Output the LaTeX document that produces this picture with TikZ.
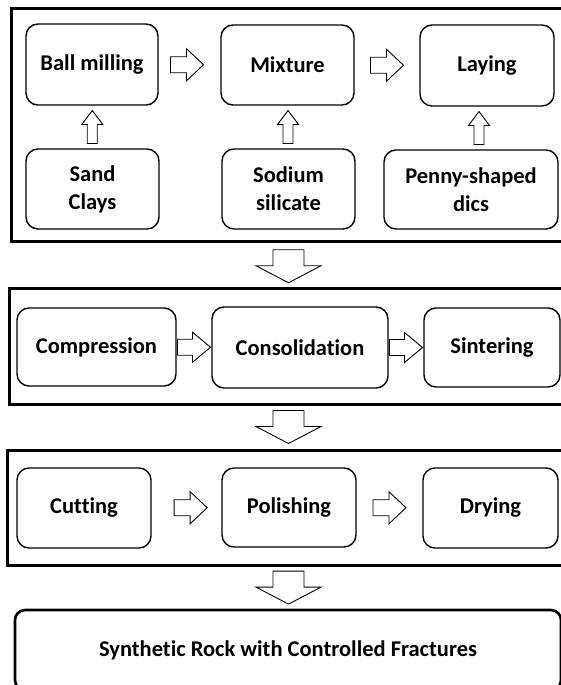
\documentclass[tikz,border=0pt]{standalone}
\usepackage{fontspec}
\setmainfont{Carlito}[Ligatures=NoCommon]
\usetikzlibrary{calc}
\begin{document}
\begin{tikzpicture}[x=1pt,y=-1pt,
  box/.style={draw, line width=1.4pt, rounded corners=12pt, align=center,
    font=\fontsize{22.5}{28}\selectfont\bfseries, inner sep=0pt},
  frame/.style={draw, line width=3pt, inner sep=0pt},
  arr/.style={draw, line width=0.9pt, fill=white, line join=miter},
  rA/.pic={\path[arr] (-16.5,-8) -- (-0.5,-8) -- (-0.5,-16) -- (16.5,0) -- (-0.5,16) -- (-0.5,8) -- (-16.5,8) -- cycle;},
  rB/.pic={\path[arr] (-16.5,-8) -- (-1.5,-8) -- (-1.5,-15) -- (16.5,0) -- (-1.5,15) -- (-1.5,8) -- (-16.5,8) -- cycle;},
  uA/.pic={\path[arr] (0,-16.5) -- (10.5,-2.5) -- (5,-2.5) -- (5,16.5) -- (-5,16.5) -- (-5,-2.5) -- (-10.5,-2.5) -- cycle;},
  dA/.pic={\path[arr] (-15.5,-16.5) -- (15.5,-16.5) -- (15.5,-0.5) -- (32.5,-0.5) -- (0,16.5) -- (-32.5,-0.5) -- (-15.5,-0.5) -- cycle;}
]
\useasboundingbox (0,0) rectangle (561,685);
\clip (0,0) rectangle (561,685);
\fill[white] (0,0) rectangle (561,685);

% frames
\node[frame, minimum width=564pt, minimum height=232pt] (f1) at (293,125) {};
\node[frame, minimum width=566pt, minimum height=116pt] (f2) at (292,346) {};
\node[frame, minimum width=568pt, minimum height=115pt] (f3) at (291,507.5) {};

% stage 1
\node[box, minimum width=132pt, minimum height=81pt] (bm) at (92,64.5) {Ball milling};
\node[box, minimum width=133pt, minimum height=80pt] (mx) at (287.5,65) {Mixture};
\node[box, minimum width=134pt, minimum height=81pt] (ly) at (487,65.5) {Laying};
\node[box, minimum width=133pt, minimum height=80pt] (sc) at (92.5,189) {Sand\\Clays};
\node[box, minimum width=133pt, minimum height=80pt] (ss) at (288.5,189) {Sodium\\silicate};
\node[box, minimum width=174pt, minimum height=79pt] (ps) at (471,189.5) {Penny-shaped\\dics};

\pic at ($(bm.east)!0.46!(mx.west)$) {rA};
\pic at ($(mx.east)!0.5!(ly.west)$) {rA};
\pic at ($(sc.north)!0.5!(bm.south)$) {uA};
\pic at ($(ss.north)!0.5!(mx.south)$) {uA};
\pic at ($(ps.north)!0.5!(ly.south)$) {uA};

% stage 2
\node[box, minimum width=159pt, minimum height=78pt] (cp) at (96.5,347) {Compression};
\node[box, minimum width=176pt, minimum height=81pt] (cn) at (300,347.5) {Consolidation};
\node[box, minimum width=136pt, minimum height=79pt] (st) at (492,347.5) {Sintering};
\pic at ($(cp.east)!0.5!(cn.west)$) {rB};
\pic at ($(cn.east)!0.5!(st.west)$) {rB};

% stage 3
\node[box, minimum width=134pt, minimum height=80pt] (ct) at (84,508) {Cutting};
\node[box, minimum width=134pt, minimum height=79pt] (po) at (289,507.5) {Polishing};
\node[box, minimum width=135pt, minimum height=80pt] (dr) at (490.5,508) {Drying};
\pic at ($(ct.east)!0.56!(po.west)$) {rA};
\pic at ($(po.east)!0.5!(dr.west)$) {rA};

% final
\node[box, line width=2.6pt, rounded corners=10pt, minimum width=546pt, minimum height=80pt] (fin) at (288,650) {Synthetic Rock with Controlled Fractures};

% down arrows
\pic at ($(ss.center |- f1.south)!0.54!(ss.center |- f2.north)$) {dA};
\pic at ($(ss.center |- f2.south)!0.5!(ss.center |- f3.north)$) {dA};
\pic at ($(ss.center |- f3.south)!0.5!(ss.center |- fin.north)$) {dA};
\end{tikzpicture}
\end{document}
